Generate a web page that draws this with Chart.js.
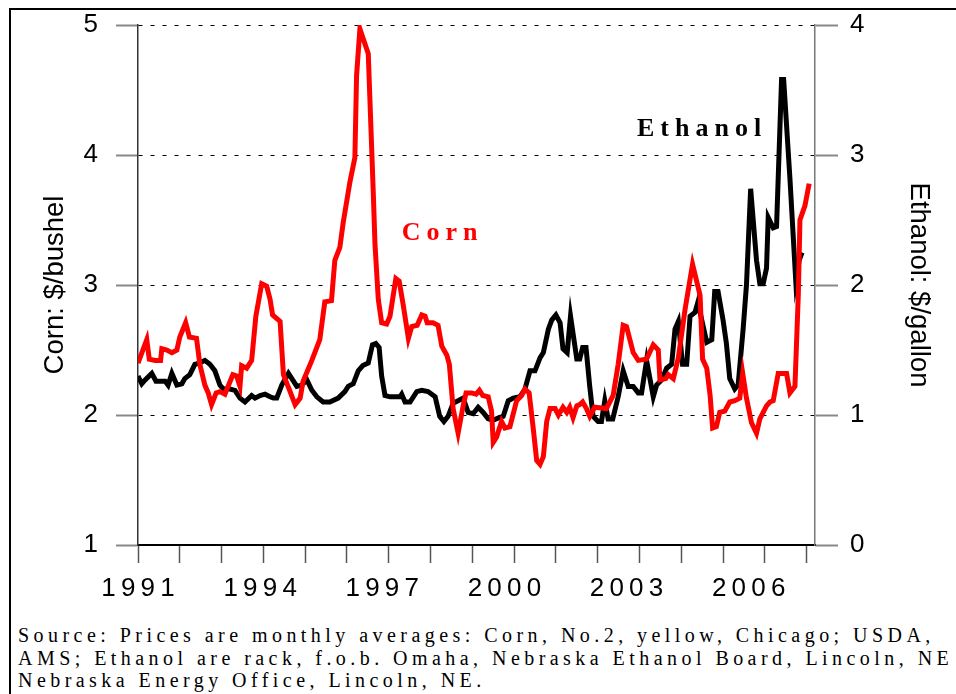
<!DOCTYPE html>
<html>
<head>
<meta charset="utf-8">
<script src="https://cdn.jsdelivr.net/npm/chart.js@4.4.1/dist/chart.umd.min.js"></script>
<style>
  html, body { margin: 0; padding: 0; background: #fff; overflow: hidden; }
  #wrap { position: relative; width: 956px; height: 694px; }
  #frame { position: absolute; left: 9px; top: 8px; width: 960px; height: 700px;
           border-top: 2px solid #000; border-left: 2px solid #000; }
  #chart { position: absolute; left: 0; top: 0; }
  #source { position: absolute; left: 18px; top: 624px; font-family: "Liberation Serif", "Times New Roman", serif;
            font-size: 20px; line-height: 22.5px; letter-spacing: 4.45px; white-space: nowrap; color: #000; }
</style>
</head>
<body>
<div id="wrap">
  <div id="frame"></div>
  <canvas id="chart" width="956" height="612"></canvas>
  <div id="source">Source: Prices are monthly averages: Corn, No.2, yellow, Chicago; USDA,<br>AMS; Ethanol are rack, f.o.b. Omaha, Nebraska Ethanol Board, Lincoln, NE<br>Nebraska Energy Office, Lincoln, NE.</div>
</div>
<script>
// corn, $/bushel (left axis)
const cornYears = [1991.00, 1991.21, 1991.27, 1991.41, 1991.54, 1991.57, 1991.69, 1991.81, 1991.93, 1992.00,
  1992.14, 1992.23, 1992.40, 1992.48, 1992.60, 1992.68, 1992.76, 1992.87, 1992.96, 1993.08,
  1993.18, 1993.27, 1993.36, 1993.44, 1993.48, 1993.60, 1993.72, 1993.82, 1993.96, 1994.08,
  1994.16, 1994.22, 1994.40, 1994.48, 1994.64, 1994.76, 1994.88, 1994.95, 1995.16, 1995.35,
  1995.47, 1995.63, 1995.71, 1995.83, 1995.91, 1996.07, 1996.19, 1996.23, 1996.31, 1996.51,
  1996.63, 1996.67, 1996.75, 1996.83, 1996.95, 1997.03, 1997.17, 1997.25, 1997.35, 1997.47,
  1997.55, 1997.68, 1997.79, 1997.87, 1997.92, 1998.06, 1998.18, 1998.27, 1998.39, 1998.45,
  1998.54, 1998.66, 1998.78, 1998.85, 1998.98, 1999.09, 1999.17, 1999.25, 1999.38, 1999.46,
  1999.50, 1999.58, 1999.70, 1999.78, 1999.90, 2000.06, 2000.18, 2000.26, 2000.36, 2000.46,
  2000.54, 2000.62, 2000.70, 2000.78, 2000.86, 2000.98, 2001.06, 2001.17, 2001.26, 2001.33,
  2001.41, 2001.50, 2001.57, 2001.64, 2001.73, 2001.81, 2001.93, 2002.21, 2002.37, 2002.49,
  2002.61, 2002.69, 2002.85, 2002.97, 2003.17, 2003.33, 2003.45, 2003.49, 2003.63, 2003.69,
  2003.81, 2003.93, 2004.09, 2004.27, 2004.45, 2004.51, 2004.61, 2004.69, 2004.75, 2004.84,
  2004.92, 2005.04, 2005.16, 2005.28, 2005.40, 2005.47, 2005.56, 2005.68, 2005.80, 2005.88,
  2006.04, 2006.12, 2006.20, 2006.32, 2006.44, 2006.52, 2006.60, 2006.72, 2006.80, 2006.84,
  2006.96, 2007.06];
const cornPrices = [2.40, 2.58, 2.43, 2.42, 2.42, 2.51, 2.50, 2.48, 2.50, 2.60,
  2.71, 2.60, 2.59, 2.39, 2.23, 2.17, 2.08, 2.17, 2.18, 2.16,
  2.24, 2.31, 2.30, 2.22, 2.38, 2.36, 2.42, 2.76, 3.01, 2.99,
  2.89, 2.77, 2.72, 2.31, 2.18, 2.08, 2.13, 2.26, 2.42, 2.58,
  2.87, 2.88, 3.19, 3.29, 3.48, 3.79, 3.98, 4.61, 4.97, 4.78,
  3.71, 3.32, 2.89, 2.71, 2.70, 2.76, 3.05, 3.03, 2.84, 2.59,
  2.68, 2.69, 2.77, 2.76, 2.71, 2.71, 2.69, 2.53, 2.46, 2.39,
  2.05, 1.86, 2.07, 2.17, 2.17, 2.16, 2.19, 2.15, 2.14, 2.03,
  1.79, 1.83, 1.95, 1.90, 1.91, 2.11, 2.15, 2.20, 2.17, 1.89,
  1.65, 1.62, 1.68, 1.95, 2.05, 2.05, 2.00, 2.06, 2.02, 2.06,
  1.98, 2.07, 2.08, 2.10, 2.05, 1.99, 2.06, 2.05, 2.15, 2.39,
  2.69, 2.68, 2.48, 2.42, 2.43, 2.54, 2.50, 2.27, 2.28, 2.31,
  2.28, 2.44, 2.81, 3.16, 2.92, 2.43, 2.36, 2.15, 1.90, 1.91,
  2.02, 2.03, 2.10, 2.11, 2.13, 2.32, 2.13, 1.94, 1.86, 1.97,
  2.07, 2.10, 2.11, 2.32, 2.32, 2.32, 2.17, 2.22, 2.92, 3.50,
  3.61, 3.78];

// ethanol, $/gallon (right axis)
const ethanolYears = [1991.00, 1991.09, 1991.17, 1991.33, 1991.43, 1991.53, 1991.65, 1991.72, 1991.81, 1991.93,
  1992.05, 1992.12, 1992.24, 1992.36, 1992.48, 1992.60, 1992.72, 1992.84, 1992.96, 1993.04,
  1993.20, 1993.32, 1993.44, 1993.56, 1993.72, 1993.80, 1993.92, 1994.04, 1994.16, 1994.24,
  1994.32, 1994.44, 1994.60, 1994.72, 1994.80, 1994.92, 1995.04, 1995.16, 1995.28, 1995.43,
  1995.59, 1995.79, 1995.95, 1996.03, 1996.15, 1996.27, 1996.38, 1996.51, 1996.61, 1996.69,
  1996.77, 1996.83, 1996.91, 1997.03, 1997.27, 1997.31, 1997.39, 1997.51, 1997.67, 1997.79,
  1997.94, 1998.11, 1998.22, 1998.32, 1998.42, 1998.54, 1998.66, 1998.78, 1998.90, 1999.02,
  1999.14, 1999.26, 1999.38, 1999.50, 1999.64, 1999.74, 1999.86, 1999.98, 2000.14, 2000.26,
  2000.38, 2000.50, 2000.62, 2000.70, 2000.82, 2000.90, 2001.00, 2001.10, 2001.17, 2001.27,
  2001.35, 2001.50, 2001.57, 2001.64, 2001.72, 2001.81, 2001.89, 2002.01, 2002.09, 2002.17,
  2002.25, 2002.36, 2002.49, 2002.61, 2002.73, 2002.85, 2002.97, 2003.05, 2003.17, 2003.33,
  2003.41, 2003.53, 2003.65, 2003.77, 2003.85, 2003.93, 2004.03, 2004.13, 2004.21, 2004.33,
  2004.40, 2004.49, 2004.61, 2004.73, 2004.80, 2004.88, 2005.00, 2005.08, 2005.16, 2005.28,
  2005.36, 2005.48, 2005.56, 2005.66, 2005.80, 2005.88, 2005.96, 2006.04, 2006.08, 2006.20,
  2006.28, 2006.40, 2006.45, 2006.60, 2006.74, 2006.82, 2006.89];
const ethanolPrices = [1.30, 1.24, 1.27, 1.32, 1.26, 1.26, 1.26, 1.23, 1.32, 1.23,
  1.24, 1.28, 1.31, 1.39, 1.40, 1.42, 1.39, 1.34, 1.23, 1.20,
  1.20, 1.19, 1.13, 1.10, 1.15, 1.13, 1.15, 1.16, 1.14, 1.13,
  1.13, 1.23, 1.32, 1.26, 1.22, 1.23, 1.27, 1.19, 1.14, 1.10,
  1.10, 1.13, 1.18, 1.22, 1.24, 1.34, 1.38, 1.40, 1.54, 1.55,
  1.52, 1.30, 1.15, 1.14, 1.14, 1.16, 1.10, 1.10, 1.18, 1.19,
  1.18, 1.14, 0.99, 0.95, 0.99, 1.09, 1.11, 1.13, 1.02, 1.01,
  1.06, 1.02, 0.97, 0.96, 0.98, 0.99, 1.11, 1.13, 1.14, 1.20,
  1.34, 1.34, 1.44, 1.48, 1.66, 1.73, 1.77, 1.71, 1.51, 1.48,
  1.76, 1.43, 1.43, 1.52, 1.52, 1.22, 0.99, 0.95, 0.95, 1.11,
  0.97, 0.97, 1.14, 1.34, 1.22, 1.22, 1.17, 1.17, 1.42, 1.14,
  1.23, 1.27, 1.36, 1.39, 1.66, 1.72, 1.39, 1.39, 1.76, 1.79,
  1.87, 1.73, 1.56, 1.58, 1.95, 1.95, 1.73, 1.55, 1.28, 1.20,
  1.23, 1.66, 2.00, 2.74, 2.19, 2.01, 2.01, 2.13, 2.52, 2.44,
  2.45, 3.58, 3.58, 2.82, 2.03, 2.19, 2.25];

const yearLabels = ['1991', '1994', '1997', '2000', '2003', '2006'];
const cornTicks = [1, 2, 3, 4, 5];
const ethanolTicks = [0, 1, 2, 3, 4];

const sansFont = '"Liberation Sans", Arial, sans-serif';

function toPoints(xs, ys) {
    return xs.map((x, i) => ({ x: x, y: ys[i] }));
}

// fixed axis widths; drop the label padding so the plot starts at the top grid line
function fixWidth(w) {
    return (scale) => {
        scale.width = w;
        scale.paddingTop = 0;
        scale.paddingBottom = 0;
    };
}

// "Corn" / "Ethanol" labels inside the plot, spaced out like the original
const lineLabels = {
    id: 'lineLabels',
    afterDraw(chart) {
        const ctx = chart.ctx;
        const x = chart.scales.x;
        const y = chart.scales.y;
        ctx.save();
        ctx.font = 'bold 26px "Liberation Serif", "Times New Roman", serif';
        ctx.letterSpacing = '6px';
        ctx.textBaseline = 'alphabetic';
        ctx.fillStyle = '#ff0000';
        ctx.fillText('Corn', x.getPixelForValue(1997.31), y.getPixelForValue(3.346));
        ctx.fillStyle = '#000000';
        ctx.fillText('Ethanol', x.getPixelForValue(2002.94), y.getPixelForValue(4.146));
        ctx.restore();
    }
};

const ctx = document.getElementById('chart').getContext('2d');
new Chart(ctx, {
    type: 'line',
    data: {
        datasets: [
            {
                label: 'Corn',
                data: toPoints(cornYears, cornPrices),
                xAxisID: 'x',
                yAxisID: 'y',
                borderColor: '#ff0000',
                borderWidth: 5,
                pointRadius: 0,
                tension: 0,
                fill: false
            },
            {
                label: 'Ethanol',
                data: toPoints(ethanolYears, ethanolPrices),
                xAxisID: 'x',
                yAxisID: 'y2',
                borderColor: '#000000',
                borderWidth: 5,
                pointRadius: 0,
                tension: 0,
                fill: false
            }
        ]
    },
    options: {
        responsive: false,
        animation: false,
        devicePixelRatio: 1,
        layout: { padding: { top: 25 } },
        plugins: { legend: { display: false }, tooltip: { enabled: false } },
        scales: {
            // tick marks only
            x: {
                type: 'linear',
                position: 'bottom',
                weight: 0,
                min: 1991,
                max: 2007.2,
                grid: { drawOnChartArea: false, tickLength: 18, tickColor: '#555', tickWidth: 1.5 },
                border: { color: '#000', width: 2 },
                ticks: { stepSize: 1, includeBounds: false, autoSkip: false, display: false },
                afterFit: (scale) => { scale.height = 20; }
            },
            // year labels, spaced a little tighter than the ticks as in the original
            xLabels: {
                type: 'linear',
                position: 'bottom',
                weight: 1,
                min: 1991,
                max: 2007.63,
                grid: { display: false },
                border: { display: false },
                ticks: {
                    stepSize: 1,
                    includeBounds: false,
                    autoSkip: false,
                    maxRotation: 0,
                    padding: 0,
                    color: '#000',
                    font: { size: 26, family: sansFont },
                    callback: (value) => {
                        const s = String(value);
                        return yearLabels.includes(s) ? s.split('').join('\u2009') : '';
                    }
                },
                afterFit: (scale) => { scale.height = 47; }
            },
            y: {
                position: 'left',
                min: cornTicks[0],
                max: cornTicks[cornTicks.length - 1],
                grid: { color: '#000', lineWidth: 1, tickLength: 22, tickColor: '#888', tickWidth: 2, tickBorderDash: [] },
                border: { dash: [4, 8], color: '#333', width: 1.5 },
                ticks: {
                    stepSize: 1,
                    padding: 18,
                    color: '#000',
                    font: { size: 26, family: sansFont }
                },
                title: {
                    display: true,
                    text: 'Corn: $/bushel',
                    color: '#000',
                    font: { size: 27.5, family: sansFont },
                    padding: { top: 39 }
                },
                afterFit: fixWidth(138)
            },
            y2: {
                position: 'right',
                min: ethanolTicks[0],
                max: ethanolTicks[ethanolTicks.length - 1],
                grid: { drawOnChartArea: false, tickLength: 23, tickColor: '#888', tickWidth: 2 },
                border: { color: '#777', width: 1.5 },
                ticks: {
                    stepSize: 1,
                    padding: 12,
                    color: '#000',
                    font: { size: 26, family: sansFont }
                },
                title: {
                    display: true,
                    text: 'Ethanol: $/gallon',
                    color: '#000',
                    font: { size: 27.5, family: sansFont },
                    padding: { top: 21 }
                },
                afterFit: fixWidth(141)
            }
        }
    },
    plugins: [lineLabels]
});
</script>
</body>
</html>
